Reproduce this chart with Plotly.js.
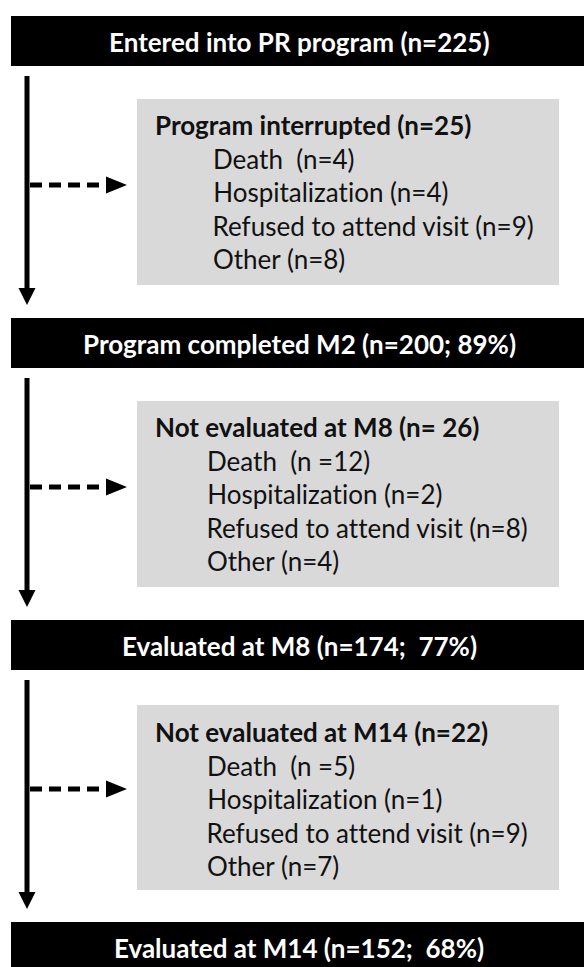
<!DOCTYPE html>
<html>
<head>
<meta charset="utf-8">
<script src="https://cdn.plot.ly/plotly-3.0.1.min.js"></script>
<style>
  html, body { margin: 0; padding: 0; background: #ffffff; }
  #chart { width: 584px; height: 967px; }
  #chart text { font-variant-ligatures: none; font-feature-settings: "liga" 0; }
</style>
</head>
<body>
<div id="chart"></div>
<script>
// ---- data ----
const stageLabels = ["Entered into PR program", "Program completed M2", "Evaluated at M8", "Evaluated at M14"];
const stageCounts = [225, 200, 174, 152];
const stagePercents = [null, 89, 77, 68];

const exclusionTitles = ["Program interrupted", "Not evaluated at M8", "Not evaluated at M14"];
const exclusionCounts = [25, 26, 22];
const reasonLabels = ["Death", "Hospitalization", "Refused to attend visit", "Other"];
const reasonCounts = [
  [4, 4, 9, 8],
  [12, 2, 8, 4],
  [5, 1, 9, 7]
];

// ---- layout geometry (pixels in a 584 x 967 coordinate space) ----
const NB = '\u00a0';
const FONT = 'Lato, "Open Sans", sans-serif';
const FS = 26;
const stageTop = [16, 318, 620, 922];
const stageH = 50;
const grayTop = [99, 401, 705];
const grayBottom = [285, 587, 890];
const titleY = [125, 427, 732];
const itemYOffsets = [34, 67, 101, 134];
const itemX = [211, 205, 205];
const arrowY = [185, 487, 789];
const lineX = 27;
const textCenterX = 299;

function stageText(i) {
  let t = stageLabels[i] + ' (n=' + stageCounts[i];
  if (stagePercents[i] !== null) {
    t += ';' + (i === 1 ? ' ' : ' ' + NB) + stagePercents[i] + '%';
  }
  return '<b>' + t + ')</b>';
}
function exclusionText(i) {
  return '<b>' + exclusionTitles[i] + ' (n=' + (i === 1 ? NB : '') + exclusionCounts[i] + ')</b>';
}
function reasonText(box, k) {
  const eq = (k === 0 && box > 0) ? ' =' : '=';
  const sep = (k === 0) ? NB + NB : ' ';
  return reasonLabels[k] + sep + '(n' + eq + reasonCounts[box][k] + ')';
}

const shapes = [];
const annotations = [];

// stage boxes
for (let i = 0; i < stageLabels.length; i++) {
  shapes.push({
    type: 'rect', xref: 'x', yref: 'y',
    x0: 11, x1: 600, y0: stageTop[i], y1: stageTop[i] + stageH,
    fillcolor: '#000000', line: { width: 0 }, layer: 'below'
  });
  annotations.push({
    x: textCenterX, y: stageTop[i] + stageH / 2 + 1, xref: 'x', yref: 'y',
    text: stageText(i), showarrow: false, xanchor: 'center', yanchor: 'middle',
    font: { family: FONT, size: FS, color: '#ffffff' }
  });
}

// exclusion boxes, flow lines, arrows
for (let i = 0; i < exclusionTitles.length; i++) {
  shapes.push({
    type: 'rect', xref: 'x', yref: 'y',
    x0: 137, x1: 559, y0: grayTop[i], y1: grayBottom[i],
    fillcolor: '#d9d9d9', line: { width: 0 }, layer: 'below'
  });
  const lineTop = stageTop[i] + stageH + 10;
  const tip = stageTop[i + 1] - 13;
  // vertical line
  shapes.push({
    type: 'line', xref: 'x', yref: 'y',
    x0: lineX, x1: lineX, y0: lineTop, y1: tip - 12,
    line: { color: '#000000', width: 5 }
  });
  // arrow head down
  shapes.push({
    type: 'path', xref: 'x', yref: 'y',
    path: 'M ' + (lineX - 8.5) + ' ' + (tip - 17) + ' L ' + (lineX + 8.5) + ' ' + (tip - 17) + ' L ' + lineX + ' ' + tip + ' Z',
    fillcolor: '#000000', line: { width: 0 }
  });
  // dashed horizontal arrow
  shapes.push({
    type: 'line', xref: 'x', yref: 'y',
    x0: lineX + 3, x1: 108, y0: arrowY[i], y1: arrowY[i],
    line: { color: '#000000', width: 5, dash: '12px,7px' }
  });
  shapes.push({
    type: 'path', xref: 'x', yref: 'y',
    path: 'M 106 ' + (arrowY[i] - 8.5) + ' L 127 ' + arrowY[i] + ' L 106 ' + (arrowY[i] + 8.5) + ' Z',
    fillcolor: '#000000', line: { width: 0 }
  });
  // texts
  annotations.push({
    x: 153, y: titleY[i], xref: 'x', yref: 'y',
    text: exclusionText(i), showarrow: false, xanchor: 'left', yanchor: 'middle',
    font: { family: FONT, size: FS, color: '#111111' }
  });
  for (let k = 0; k < reasonLabels.length; k++) {
    annotations.push({
      x: itemX[i], y: titleY[i] + itemYOffsets[k], xref: 'x', yref: 'y',
      text: reasonText(i, k), showarrow: false, xanchor: 'left', yanchor: 'middle',
      font: { family: FONT, size: FS, color: '#111111' }
    });
  }
}

const layout = {
  width: 584, height: 967,
  margin: { l: 0, r: 0, t: 0, b: 0, pad: 0 },
  paper_bgcolor: '#ffffff', plot_bgcolor: '#ffffff',
  xaxis: { range: [0, 584], visible: false, fixedrange: true },
  yaxis: { range: [967, 0], visible: false, fixedrange: true },
  showlegend: false,
  shapes: shapes,
  annotations: annotations
};

Plotly.newPlot('chart', [], layout, { staticPlot: true, displayModeBar: false });
</script>
</body>
</html>
